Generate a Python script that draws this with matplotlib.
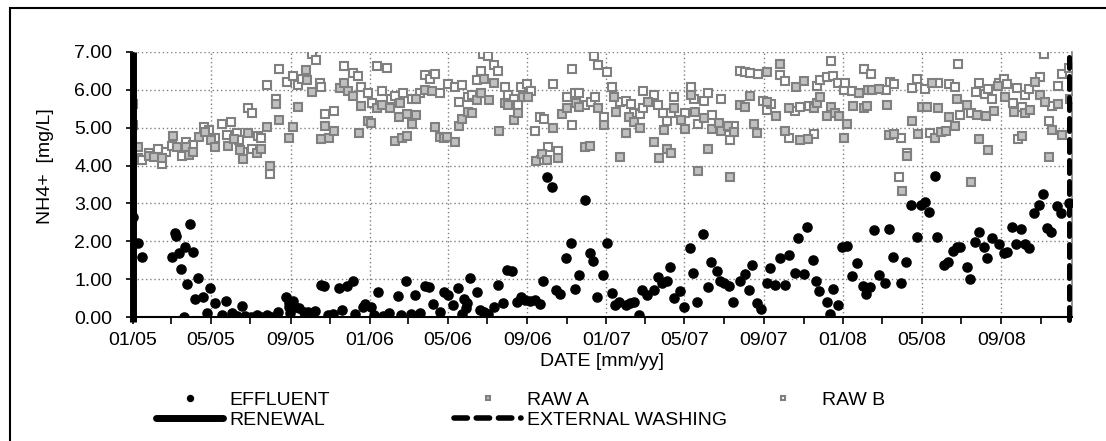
import numpy as np
import matplotlib
matplotlib.use("Agg")
import matplotlib.pyplot as plt
import matplotlib.dates as mdates
from matplotlib.lines import Line2D
from matplotlib.patches import Rectangle
from matplotlib.ticker import FormatStrFormatter

plt.rcParams["font.family"] = ["Liberation Sans", "DejaVu Sans"]

# all x values are days since 2005-01-01
START = np.datetime64("2005-01-01")

eff_day = [0, 7, 14, 60, 65, 66, 71, 74, 78, 80, 84, 88, 92, 96, 100, 108, 114, 119, 126,
           137, 144, 152, 160, 168, 173, 182, 191, 198, 206, 215, 224,
           236, 240, 241, 242, 246, 250, 256, 263, 270, 280, 290, 295, 301, 309, 318, 323,
           330, 340, 343, 354, 358, 367, 372, 378, 386, 394, 409, 414, 421, 429, 435, 443,
           450, 457, 463, 473, 479, 485, 493, 501, 507, 510, 513, 515, 520, 530, 535, 542,
           548, 556, 563, 571, 576, 584, 592, 599, 605, 612, 620, 628, 633, 638, 646, 652,
           659, 667, 676, 682, 687, 697, 705, 710, 715, 725, 731, 739, 744, 750, 760, 767,
           773, 780, 785, 792, 803, 809, 816, 823, 828, 834, 844, 850, 859, 864, 869, 879,
           886, 892, 900, 905, 912, 919, 925, 936, 943, 950, 954, 962, 969, 977, 983, 990,
           997, 1005, 1012, 1021, 1026, 1034, 1039, 1048, 1053, 1058, 1070, 1075, 1080,
           1087, 1094, 1101, 1108, 1116, 1125, 1130, 1137, 1142, 1150, 1160, 1166, 1172,
           1185, 1192, 1200, 1209, 1215, 1221, 1227, 1236, 1240, 1250, 1257, 1265, 1271,
           1276, 1286, 1291, 1298, 1304, 1312, 1317, 1325, 1335, 1343, 1348, 1356, 1362,
           1370, 1375, 1381, 1390, 1397, 1404, 1409, 1416, 1425, 1431, 1444]
eff_val = [2.65, 1.95, 1.58, 1.59, 2.23, 2.14, 1.68, 1.28, 0.00, 1.84, 0.87, 2.46, 1.71, 0.47,
           1.02, 0.52, 0.11, 0.76, 0.36, 0.04, 0.42, 0.10, 0.03, 0.30, 0.03, 0.00, 0.04, 0.01,
           0.04, 0.01, 0.14,
           0.54, 0.36, 0.27, 0.10, 0.43, 0.27, 0.23, 0.14, 0.14, 0.17, 0.85, 0.82, 0.05, 0.08,
           0.76, 0.18, 0.82, 0.96, 0.08, 0.27, 0.34, 0.27, 0.05, 0.65, 0.03, 0.11, 0.55, 0.05,
           0.96, 0.08, 0.58, 0.11, 0.82, 0.78, 0.34, 0.14, 0.67, 0.58, 0.32, 0.76, 0.08, 0.47,
           0.23, 0.36, 1.02, 0.67, 0.18, 0.14, 0.08, 0.27, 0.85, 0.36, 1.24, 1.22, 0.40, 0.54,
           0.45, 0.43, 0.45, 0.34, 0.96, 3.71, 3.44, 0.71, 0.61, 1.56, 1.96, 0.73, 1.10, 3.09,
           1.68, 1.49, 0.52, 1.11, 1.96, 0.64, 0.32, 0.40, 0.32, 0.36, 0.40, 0.05, 0.71, 0.58,
           0.71, 1.05, 0.91, 0.96, 1.33, 0.49, 0.70, 0.27, 1.81, 1.17, 0.40, 2.19, 0.78, 1.45,
           1.22, 0.96, 0.91, 0.82, 0.40, 0.96, 1.14, 0.71, 1.37, 0.38, 0.20, 0.89, 1.29, 0.85,
           1.55, 0.85, 1.64, 1.17, 2.08, 1.14, 2.37, 1.51, 0.96, 0.70, 0.40, 0.08, 0.73, 0.32,
           1.84, 1.88, 1.08, 1.43, 0.82, 0.61, 0.80, 2.30, 1.10, 0.91, 2.32, 1.59, 0.89, 1.46,
           2.97, 2.12, 2.96, 3.04, 2.78, 3.72, 2.12, 1.37, 1.46, 1.75, 1.84, 1.84, 1.33, 1.01,
           1.99, 2.25, 1.86, 1.55, 2.08, 1.93, 1.70, 1.72, 2.37, 1.94, 2.32, 1.94, 1.81, 2.74,
           2.96, 3.25, 2.34, 2.25, 2.94, 2.74, 3.02]

rawa_day = [0, 8, 24, 33, 45, 61, 68, 82, 86, 93, 102, 111, 120, 127, 146, 155, 165, 170, 178,
            191, 197, 207, 212, 220, 225, 241, 246, 254, 267, 268, 276, 290, 296, 303, 310,
            319, 325, 331, 340, 348, 352, 362, 367, 376, 384, 396, 404, 410, 412, 415, 422,
            422, 430, 436, 436, 450, 461, 465, 474, 480, 484, 496, 502, 508, 516, 522, 531,
            536, 542, 549, 556, 564, 573, 579, 587, 593, 601, 609, 621, 630, 638, 647, 655,
            661, 669, 683, 688, 697, 705, 717, 727, 742, 745, 751, 761, 765, 773, 782, 794,
            804, 811, 819, 824, 830, 835, 845, 851, 861, 866, 871, 881, 887, 893, 903, 907,
            917, 920, 927, 936, 944, 952, 957, 963, 977, 977, 991, 998, 1006, 1012, 1022,
            1028, 1035, 1041, 1050, 1055, 1060, 1070, 1077, 1082, 1088, 1096, 1101, 1110,
            1119, 1127, 1132, 1134, 1140, 1150, 1163, 1166, 1174, 1186, 1193, 1201, 1210,
            1216, 1224, 1232, 1237, 1241, 1246, 1253, 1258, 1267, 1271, 1286, 1293, 1301,
            1305, 1315, 1318, 1327, 1334, 1344, 1358, 1371, 1376, 1384, 1391, 1399, 1406,
            1412, 1417, 1426, 1432, 1445]
rawa_val = [5.07, 4.48, 4.25, 4.22, 4.19, 4.78, 4.50, 4.50, 4.28, 4.36, 4.76, 4.89, 4.67, 4.50,
            4.52, 4.69, 4.41, 4.18, 4.85, 4.32, 4.45, 5.03, 3.99, 5.63, 5.20, 4.74, 5.01, 5.55,
            6.52, 6.26, 5.95, 4.69, 5.04, 4.72, 4.92, 6.04, 6.17, 5.98, 5.84, 4.87, 5.57, 5.19,
            5.13, 5.51, 5.60, 5.51, 4.66, 5.28, 5.66, 4.72, 5.36, 4.78, 5.10, 5.75, 5.34, 6.00,
            5.98, 5.02, 4.76, 4.74, 4.76, 4.63, 5.04, 5.22, 5.42, 5.38, 5.73, 5.91, 6.28, 5.73,
            6.17, 4.92, 5.66, 5.60, 5.20, 5.40, 5.82, 5.80, 4.13, 4.30, 4.15, 4.98, 4.19, 5.36,
            5.51, 5.64, 5.54, 4.48, 4.52, 5.51, 5.07, 5.80, 5.42, 4.23, 4.85, 5.27, 5.16, 4.98,
            5.69, 4.63, 4.19, 4.94, 4.45, 4.32, 5.51, 5.20, 4.96, 5.86, 5.42, 3.86, 5.25, 4.43,
            4.96, 5.13, 4.92, 5.04, 3.71, 4.89, 5.60, 5.55, 5.84, 5.10, 4.87, 6.48, 5.69, 5.31,
            6.68, 4.92, 5.51, 6.08, 4.67, 6.24, 4.69, 5.51, 5.66, 5.80, 5.31, 5.55, 5.38, 5.31,
            4.72, 5.10, 5.57, 5.92, 5.51, 5.57, 5.99, 5.99, 6.01, 5.60, 4.81, 4.83, 3.34, 4.25,
            5.18, 4.83, 5.54, 5.55, 6.19, 4.74, 5.51, 4.89, 4.92, 5.27, 5.04, 5.77, 5.60, 3.57,
            5.34, 4.69, 5.31, 4.41, 5.45, 6.10, 5.80, 5.42, 4.78, 5.40, 5.47, 6.21, 5.86, 5.69,
            4.23, 4.94, 5.62, 4.81, 5.77]

rawb_day = [0, 8, 14, 24, 39, 45, 51, 60, 75, 81, 93, 110, 117, 126, 137, 145, 151, 160, 164,
            170, 178, 183, 184, 193, 198, 207, 212, 220, 225, 237, 246, 254, 260, 276, 282,
            288, 290, 296, 310, 325, 340, 347, 352, 363, 368, 376, 384, 391, 398, 404, 417,
            430, 443, 450, 458, 465, 473, 485, 496, 503, 508, 516, 522, 531, 537, 540, 548,
            556, 563, 573, 578, 587, 593, 599, 607, 613, 620, 628, 629, 634, 640, 647, 655,
            669, 677, 677, 682, 688, 697, 706, 711, 712, 717, 727, 731, 739, 751, 760, 768,
            772, 782, 786, 787, 804, 810, 817, 824, 830, 835, 851, 861, 865, 871, 880, 887,
            893, 907, 913, 921, 927, 936, 943, 952, 964, 971, 977, 984, 998, 1006, 1012,
            1021, 1029, 1042, 1050, 1055, 1060, 1070, 1076, 1080, 1087, 1097, 1098, 1109,
            1127, 1138, 1161, 1168, 1174, 1181, 1185, 1193, 1201, 1209, 1221, 1229, 1241,
            1258, 1267, 1272, 1276, 1293, 1300, 1305, 1314, 1318, 1324, 1336, 1343, 1348,
            1357, 1363, 1365, 1371, 1375, 1382, 1398, 1405, 1413, 1417, 1427, 1432, 1444]
rawb_val = [5.62, 4.19, 4.16, 4.32, 4.43, 4.04, 4.36, 4.52, 4.25, 4.63, 4.54, 5.01, 4.94, 4.74,
            5.11, 4.81, 5.16, 4.87, 4.67, 4.36, 5.53, 4.43, 5.40, 4.78, 4.72, 6.13, 3.79, 5.76,
            6.54, 6.21, 6.36, 6.13, 6.30, 6.96, 6.80, 6.17, 6.08, 5.36, 5.45, 6.63, 6.45, 6.36,
            6.08, 5.91, 5.66, 6.63, 5.98, 6.57, 5.77, 5.84, 5.91, 5.77, 5.91, 6.39, 6.28, 6.43,
            5.91, 6.15, 6.08, 5.69, 6.13, 5.82, 5.86, 6.26, 6.51, 6.95, 6.89, 6.65, 6.51, 6.08,
            5.86, 5.75, 5.60, 6.08, 6.15, 5.98, 4.92, 5.28, 4.15, 5.24, 4.50, 6.15, 4.39, 5.82,
            6.54, 5.07, 5.91, 5.92, 5.60, 5.69, 6.89, 5.82, 6.65, 5.28, 6.48, 6.07, 5.69, 5.71,
            5.63, 5.40, 5.36, 5.51, 5.98, 5.86, 5.60, 5.40, 5.18, 5.40, 5.80, 5.38, 6.08, 5.75,
            5.10, 5.71, 5.91, 5.33, 5.75, 5.01, 4.67, 5.04, 6.51, 6.48, 6.45, 6.42, 5.71, 5.47,
            5.63, 6.39, 6.24, 4.72, 5.45, 5.54, 5.57, 4.83, 6.10, 6.26, 6.33, 6.77, 6.36, 6.17,
            5.99, 6.19, 5.98, 6.54, 6.42, 5.99, 6.21, 6.15, 3.71, 4.74, 4.32, 6.04, 6.30, 6.01,
            4.85, 6.19, 6.15, 6.08, 6.68, 5.34, 5.38, 5.95, 6.19, 5.89, 6.01, 5.77, 6.17, 6.28,
            6.15, 5.66, 6.04, 4.69, 5.54, 5.86, 6.01, 6.33, 6.95, 5.18, 5.57, 6.10, 6.42, 6.57]

renewal_day = 0
washing_day = 1444
x_end_day = 1448
y_ticks = [0, 1, 2, 3, 4, 5, 6, 7]


def to_dates(days):
    return START + np.asarray(days).astype("timedelta64[D]")


W, H = 1106, 441
fig = plt.figure(figsize=(W / 100, H / 100), dpi=100)
ax = fig.add_axes([133 / W, 1 - 317 / H, 939 / W, 265 / H])

gray_edge = "#808080"
sq = dict(ls="none", marker="s", ms=5.4, mew=1.5, mec=gray_edge)
h_b, = ax.plot(to_dates(rawb_day), rawb_val, mfc="white", zorder=3, **sq)
h_a, = ax.plot(to_dates(rawa_day), rawa_val, mfc="#C0C0C0", zorder=3, **sq)
h_e, = ax.plot(to_dates(eff_day), eff_val, ls="none", marker="o", ms=6.6,
               color="black", zorder=4)

h_r = ax.axvline(to_dates([renewal_day])[0], ymin=-0.02, ymax=1, color="black", lw=5,
                 solid_capstyle="butt", zorder=6, clip_on=False)
h_w = ax.axvline(to_dates([washing_day])[0], ymin=-0.01, ymax=0.98, color="black", lw=3.6,
                 dashes=(2.6, 1.6), dash_capstyle="round", zorder=6, clip_on=False)

ax.set_xlim(to_dates([0])[0], to_dates([x_end_day])[0])
ax.set_ylim(0, 7)
ax.set_yticks(y_ticks)
ax.yaxis.set_major_formatter(FormatStrFormatter("%.2f"))
ax.xaxis.set_major_locator(mdates.MonthLocator(bymonth=[1, 5, 9]))
ax.xaxis.set_minor_locator(mdates.MonthLocator(bymonth=[3, 7, 11]))
ax.xaxis.set_major_formatter(mdates.DateFormatter("%m/%y"))

ax.grid(True, which="major", color=gray_edge, lw=1, dashes=(1, 2))
ax.set_axisbelow(True)
ax.tick_params(axis="x", which="both", direction="out", length=5, width=1.2,
               labelsize=14, pad=6)
ax.tick_params(axis="y", direction="out", length=5, width=1.2, labelsize=14, pad=10)

ax.spines["top"].set_visible(False)
ax.spines["right"].set_color(gray_edge)
ax.spines["right"].set_linewidth(1.2)
ax.spines["bottom"].set_linewidth(1.5)

ax.set_xlabel("DATE [mm/yy]", fontsize=14, va="center")
ax.xaxis.set_label_coords(0.5, (317 - 362) / 265)
ax.set_ylabel("NH4+  [mg/L]", fontsize=14, va="center")
ax.yaxis.set_label_coords((45 - 133) / 939, (317 - 166) / 265)

# legend: Excel-style fixed grid, one entry per slot
leg_h_r = Line2D([], [], color="black", lw=5, solid_capstyle="round")
leg_h_w = Line2D([], [], color="black", lw=4, dashes=(2.4, 1.6), dash_capstyle="round")
slots = [
    (h_e, "EFFLUENT", 156, 400),
    (h_a, "RAW A", 454, 400),
    (h_b, "RAW B", 749, 400),
    (leg_h_r, "RENEWAL", 156, 420),
    (leg_h_w, "EXTERNAL WASHING", 454, 420),
]
for handle, label, px, py in slots:
    fig.legend(handles=[handle], labels=[label], loc="center left",
               bbox_to_anchor=(px / W, 1 - py / H), frameon=False, fontsize=14,
               handlelength=3.45, handletextpad=0.3, borderpad=0, borderaxespad=0,
               markerscale=0.65)

fig.patches.append(Rectangle((10 / W, -0.1), 2, (H - 8) / H + 0.1, transform=fig.transFigure,
                             fill=False, ec="black", lw=1.5))

fig.savefig("out.png", dpi=100)
